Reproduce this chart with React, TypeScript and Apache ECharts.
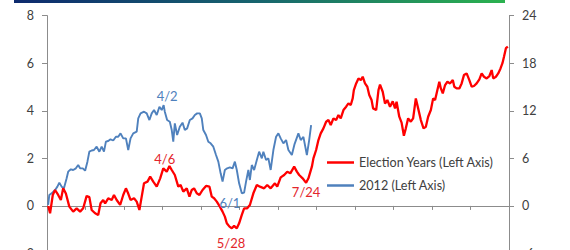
import React, { useEffect, useRef } from "react";
import * as echarts from "echarts";

// x = month of year (0 = Jan 1, 12 = Dec 31)
const electionMonths = [
  0.03, 0.08, 0.15, 0.21, 0.29, 0.36, 0.42, 0.49, 0.58, 0.68, 0.77, 0.86, 0.94, 1.03, 1.1, 1.16, 1.25, 1.33, 1.39, 1.46,
  1.51, 1.59, 1.68, 1.74, 1.81, 1.9, 1.98, 2.05, 2.11, 2.17, 2.26, 2.33, 2.4, 2.46, 2.52, 2.61, 2.68, 2.76, 2.85, 2.94,
  3.02, 3.11, 3.18, 3.24, 3.32, 3.41, 3.47, 3.54, 3.63, 3.7, 3.76, 3.82, 3.89, 3.96, 4.04, 4.13, 4.22, 4.28, 4.34, 4.41,
  4.49, 4.56, 4.62, 4.67, 4.74, 4.8, 4.86, 4.93, 4.99, 5.06, 5.12, 5.2, 5.27, 5.36, 5.45, 5.53, 5.64, 5.72, 5.81, 5.92,
  5.98, 6.07, 6.16, 6.24, 6.32, 6.42, 6.49, 6.55, 6.64, 6.73, 6.79, 6.88, 6.92, 6.99, 7.05, 7.11, 7.18, 7.25, 7.31, 7.37,
  7.44, 7.51, 7.57, 7.63, 7.7, 7.77, 7.83, 7.89, 7.94, 7.97, 8.03, 8.09, 8.15, 8.2, 8.26, 8.32, 8.37, 8.43, 8.47, 8.55,
  8.61, 8.65, 8.72, 8.78, 8.84, 8.91, 8.98, 9.04, 9.08, 9.15, 9.21, 9.27, 9.32, 9.38, 9.45, 9.51, 9.58, 9.64, 9.71, 9.78,
  9.84, 9.9, 9.97, 10.03, 10.08, 10.14, 10.19, 10.23, 10.28, 10.34, 10.4, 10.47, 10.54, 10.58, 10.64, 10.71, 10.77, 10.83, 10.9, 10.97,
  11.03, 11.09, 11.16, 11.23, 11.29, 11.35, 11.42, 11.49, 11.55, 11.59, 11.66, 11.72, 11.78, 11.83, 11.87, 11.92, 11.97,
];
const electionValues = [
  0, -0.31, 0.46, 0.67, 0.46, 0.25, 0.74, 0.52, -0.03, -0.24, -0.1, -0.24, -0.1, 0.42, 0.37, -0.17, -0.31, -0.38, 0.11, 0.25,
  0.11, 0.32, 0.25, 0.46, 0.25, 0.04, 0.46, 0.74, 0.52, 0.25, 0.32, 0.18, -0.17, 0.39, 0.95, 1.02, 1.23, 1.02, 0.81, 1.16,
  1.58, 1.44, 1.68, 1.51, 1.3, 0.81, 0.88, 0.6, 0.74, 0.39, 0.67, 0.74, 0.53, 0.46, 0.67, 0.84, 0.81, 0.39, 0.32, 0.18,
  -0.03, -0.24, -0.45, -0.73, -0.87, -0.94, -0.84, -0.94, -0.73, -0.38, -0.1, -0.1, 0.04, 0.53, 0.88, 0.81, 0.74, 0.88, 0.74, 0.95,
  0.81, 1.2, 1.3, 1.44, 1.37, 1.65, 1.44, 1.3, 1.16, 0.97, 1.16, 1.65, 2.0, 2.35, 2.77, 3.05, 3.26, 3.54, 3.61, 3.4,
  3.68, 3.61, 3.82, 3.68, 4.03, 4.17, 4.31, 4.24, 4.52, 4.87, 5.15, 5.36, 5.29, 5.43, 5.15, 5.01, 4.66, 4.45, 4.1, 4.03,
  4.87, 5.1, 4.8, 4.3, 4.45, 4.17, 4.4, 4.1, 4.38, 3.75, 3.5, 2.95, 3.26, 3.68, 3.54, 3.68, 4.52, 4.1, 3.61, 3.26,
  3.33, 3.75, 4.03, 4.52, 4.45, 4.87, 5.22, 4.94, 4.73, 5.08, 5.22, 5.15, 5.29, 5.01, 4.94, 4.94, 5.15, 5.5, 5.57, 5.29,
  5.01, 5.04, 5.15, 5.32, 5.57, 5.43, 5.36, 5.46, 5.71, 5.36, 5.43, 5.57, 5.78, 6.0, 6.27, 6.63, 6.7,
];

const y2012Months = [
  0.03, 0.06, 0.12, 0.21, 0.27, 0.32, 0.38, 0.44, 0.51, 0.55, 0.62, 0.68, 0.75, 0.81, 0.86, 0.93, 0.99, 1.05, 1.1, 1.16,
  1.22, 1.29, 1.36, 1.42, 1.48, 1.53, 1.59, 1.65, 1.72, 1.79, 1.85, 1.91, 1.98, 2.05, 2.11, 2.17, 2.24, 2.33, 2.37, 2.43,
  2.52, 2.59, 2.66, 2.72, 2.78, 2.85, 2.92, 2.98, 3.03, 3.06, 3.12, 3.19, 3.24, 3.28, 3.32, 3.38, 3.45, 3.52, 3.58, 3.64,
  3.71, 3.78, 3.84, 3.9, 3.97, 4.02, 4.06, 4.13, 4.19, 4.25, 4.32, 4.39, 4.45, 4.51, 4.56, 4.62, 4.68, 4.75, 4.82, 4.88,
  4.93, 4.99, 5.06, 5.12, 5.17, 5.23, 5.27, 5.32, 5.38, 5.45, 5.51, 5.58, 5.62, 5.69, 5.75, 5.81, 5.88, 5.95, 6.01, 6.07,
  6.14, 6.21, 6.27, 6.36, 6.43, 6.53, 6.59, 6.66, 6.75, 6.81, 6.86,
];
const y2012Values = [
  0.04, 0.46, 0.53, 0.67, 0.81, 0.98, 0.81, 0.74, 1.16, 1.44, 1.54, 1.51, 1.58, 1.72, 1.58, 1.58, 1.48, 1.86, 2.28, 2.33,
  2.35, 2.49, 2.28, 2.49, 2.28, 2.7, 2.73, 2.8, 2.75, 2.91, 2.91, 3.05, 2.84, 2.84, 2.35, 2.84, 3.05, 3.12, 3.68, 3.89,
  3.96, 3.89, 3.61, 3.89, 4.03, 3.82, 4.17, 4.03, 4.24, 3.96, 3.61, 3.54, 3.19, 2.7, 3.47, 2.98, 3.33, 3.5, 3.19, 3.26,
  3.61, 3.68, 3.82, 3.89, 3.89, 3.68, 3.19, 2.98, 2.7, 2.63, 2.49, 2.14, 1.86, 1.37, 1.02, 1.51, 1.58, 1.62, 1.58, 1.86,
  1.51, 0.95, 0.53, 0.56, 1.02, 1.51, 1.09, 1.72, 1.51, 1.93, 2.28, 2.0, 2.28, 1.93, 2.0, 1.51, 2.35, 2.91, 3.05, 2.84,
  2.63, 2.77, 2.35, 2.14, 2.6, 3.05, 2.77, 2.9, 2.14, 2.77, 3.4,
];

const seriesNames = ["Election Years (Left Axis)", "2012 (Left Axis)"];
const seriesColors = ["#ff0000", "#4f81bd"];
const labelColors = ["#e3262b", "#4f81bd"];

// annotations: label, x (month), y (left-axis value), series index
const annotationLabels = ["4/2", "4/6", "6/1", "5/28", "7/24"];
const annotationMonths = [3.12, 3.06, 4.75, 4.78, 6.73];
const annotationValues = [4.62, 1.97, 0.13, -1.55, 0.59];
const annotationSeries = [1, 0, 1, 0, 0];

const leftAxisMin = -2;
const leftAxisMax = 8;
const leftAxisStep = 2;
const rightAxisMin = -6;
const rightAxisMax = 24;
const rightAxisStep = 6;
const monthMin = 0;
const monthMax = 12;

const FONT = "Lato";
const AXIS_GRAY = "#8c8c8c";
const TEXT_GRAY = "#404040";

export default function App() {
  const ref = useRef<HTMLDivElement>(null);
  useEffect(() => {
    if (!ref.current) return;
    const chart = echarts.init(ref.current, undefined, { renderer: "svg" });
    const dataSets = [
      electionMonths.map((m, i) => [m, electionValues[i]]),
      y2012Months.map((m, i) => [m, y2012Values[i]]),
    ];
    const series = seriesNames.map((name, s) => ({
      name,
      type: "line" as const,
      data: dataSets[s],
      showSymbol: false,
      symbol: "none",
      lineStyle: { color: seriesColors[s], width: s === 0 ? 2.3 : 1.9 },
      itemStyle: { color: seriesColors[s] },
      z: s === 0 ? 3 : 2,
      markPoint: {
        symbol: "rect",
        symbolSize: 1,
        itemStyle: { color: "rgba(0,0,0,0)" },
        label: {
          show: true,
          position: "inside",
          formatter: "{b}",
          color: labelColors[s],
          fontFamily: FONT,
          fontSize: 13,
        },
        data: annotationLabels
          .map((l, i) => ({ l, i }))
          .filter(({ i }) => annotationSeries[i] === s)
          .map(({ l, i }) => ({ name: l, coord: [annotationMonths[i], annotationValues[i]] })),
      },
    }));
    chart.setOption({
      animation: false,
      graphic: [
        {
          type: "rect",
          shape: { x: 14, y: 0, width: 491, height: 3 },
          style: {
            fill: new echarts.graphic.LinearGradient(0, 0, 1, 0, [
              { offset: 0, color: "#0d2a6e" },
              { offset: 0.5, color: "#17656e" },
              { offset: 1, color: "#2bb24f" },
            ]),
          },
        },
      ],
      grid: { left: 47, right: 61, top: 15.6, bottom: 6.4, containLabel: false },
      legend: {
        orient: "vertical",
        left: 322,
        top: 151,
        icon: "rect",
        itemWidth: 27,
        itemHeight: 2.5,
        itemGap: 10,
        textStyle: { color: TEXT_GRAY, fontFamily: FONT, fontSize: 12.6 },
        data: seriesNames,
      },
      xAxis: {
        type: "value",
        min: monthMin,
        max: monthMax,
        interval: 1,
        axisLine: { show: true, onZero: true, lineStyle: { color: AXIS_GRAY, width: 1 } },
        axisTick: { show: true, length: 4, inside: false, lineStyle: { color: AXIS_GRAY } },
        axisLabel: { show: false },
        splitLine: { show: false },
      },
      yAxis: [
        {
          type: "value",
          position: "left",
          min: leftAxisMin,
          max: leftAxisMax,
          interval: leftAxisStep,
          axisLine: { show: true, lineStyle: { color: AXIS_GRAY } },
          axisTick: { show: true, length: 5, lineStyle: { color: AXIS_GRAY } },
          axisLabel: { color: TEXT_GRAY, fontFamily: FONT, fontSize: 12.5, margin: 13 },
          splitLine: { show: false },
        },
        {
          type: "value",
          position: "right",
          min: rightAxisMin,
          max: rightAxisMax,
          interval: rightAxisStep,
          axisLine: { show: true, lineStyle: { color: AXIS_GRAY } },
          axisTick: { show: true, length: 5, lineStyle: { color: AXIS_GRAY } },
          axisLabel: { color: TEXT_GRAY, fontFamily: FONT, fontSize: 12.5, margin: 13 },
          splitLine: { show: false },
        },
      ],
      series,
    });
    return () => chart.dispose();
  }, []);
  return (
    <div style={{ position: "fixed", left: 0, top: 0, width: 570, height: 250, overflow: "hidden", background: "#fff" }}>
      <div ref={ref} style={{ width: 570, height: 260 }} />
    </div>
  );
}
